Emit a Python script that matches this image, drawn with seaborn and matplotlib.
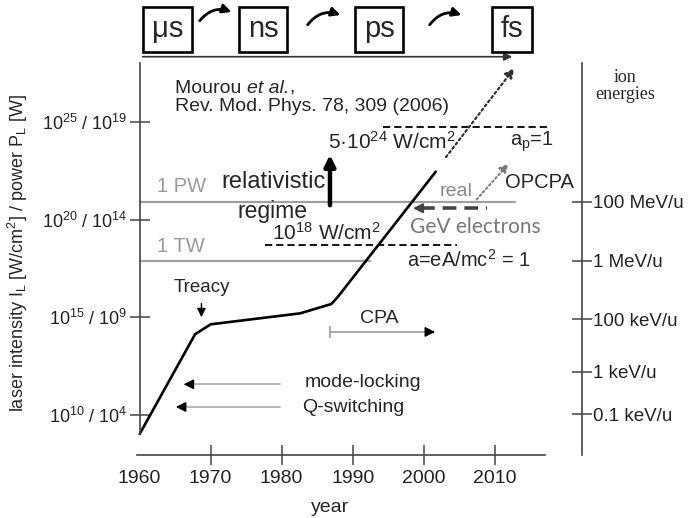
import matplotlib
matplotlib.use("Agg")
import matplotlib.pyplot as plt
from matplotlib.patches import FancyArrowPatch
import seaborn as sns
import pandas as pd

# ---------------- data ----------------
years = [1960, 1967.8, 1970.0, 1982.6, 1987.0, 1987.9, 2001.7]
log_intensity = [9.03, 14.13, 14.64, 15.20, 15.68, 16.04, 22.45]   # log10 I [W/cm^2]

projection_years = [2002.9, 2013.0]
projection_log = [23.08, 27.86]

x_ticks = [1960, 1970, 1980, 1990, 2000, 2010]
left_tick_exp = [10, 15, 20, 25]
left_tick_labels = ["$10^{10}$ / $10^{4}$", "$10^{15}$ / $10^{9}$",
                    "$10^{20}$ / $10^{14}$", "$10^{25}$ / $10^{19}$"]

ion_tick_exp = [20.92, 17.90, 14.90, 12.22, 10.05]
ion_tick_labels = ["100 MeV/u", "1 MeV/u", "100 keV/u", "1 keV/u", "0.1 keV/u"]

pulse_labels = ["\u03bcs", "ns", "ps", "fs"]

power_labels = ["1 PW", "1 TW"]
power_levels = [20.92, 17.88]
power_end_years = [2012.9, 1992.4]

rel_threshold = 18.70          # 10^18 W/cm^2 dashed line
rel_span = [1977.6, 2004.7]
ap_threshold = 24.75           # a_p = 1 dashed line
ap_span = [1994.3, 2017.5]
gev_level = 20.58              # GeV electrons (real)
gev_span = [1998.1, 2008.9]

# ---------------- style ----------------
sns.set_theme(style="ticks")
plt.rcParams["font.family"] = ["Liberation Sans", "DejaVu Sans"]
plt.rcParams["mathtext.fontset"] = "custom"
plt.rcParams["mathtext.rm"] = "Liberation Sans"
plt.rcParams["mathtext.it"] = "Liberation Sans:italic"
plt.rcParams["mathtext.bf"] = "Liberation Sans:bold"

W, H = 690, 518
fig = plt.figure(figsize=(6.9, 5.18), dpi=100)
ax = fig.add_axes([136.7 / W, (H - 455) / H, (545 - 136.7) / W, (455 - 63) / H])

df = pd.DataFrame({"year": years, "exp": log_intensity})
sns.lineplot(data=df, x="year", y="exp", ax=ax, color="black", lw=1.9,
             estimator=None, sort=False)

ax.set_xlim(1959.58, 2017.09)
ax.set_ylim(7.953, 28.01)
ax.set_xlabel("")
ax.set_ylabel("")

axis_col = "#444444"
for s in ["top", "right"]:
    ax.spines[s].set_visible(False)
ax.spines["left"].set_position(("data", 1960))
ax.spines["left"].set_bounds(log_intensity[0], 28.01)
for s in ["left", "bottom"]:
    ax.spines[s].set_color(axis_col)
    ax.spines[s].set_linewidth(1.2)

ax.set_xticks(x_ticks, [str(t) for t in x_ticks])
ax.tick_params(axis="x", direction="inout", length=15, width=1.1, color=axis_col,
               labelsize=14, pad=3, labelcolor="#222222")
ax.xaxis.get_major_ticks()[0].tick1line.set_visible(False)
ax.set_yticks(left_tick_exp, left_tick_labels)
ax.tick_params(axis="y", direction="inout", length=14, width=1.1, color=axis_col,
               labelsize=13, pad=2, labelcolor="#222222")

# right "ion energies" axis
ax2 = ax.twinx()
ax2.set_ylim(ax.get_ylim())
for s in ["top", "left", "bottom"]:
    ax2.spines[s].set_visible(False)
ax2.spines["right"].set_position(("axes", (582.3 - 136.7) / (545 - 136.7)))
ax2.spines["right"].set_color(axis_col)
ax2.spines["right"].set_linewidth(1.2)
ax2.set_yticks(ion_tick_exp, ion_tick_labels)
ax2.tick_params(axis="y", direction="inout", length=14, width=1.1, color=axis_col,
                labelsize=13.5, pad=1, labelcolor="#222222")
ax2.grid(False)

# ---------------- reference lines ----------------
for lab, lev, xe in zip(power_labels, power_levels, power_end_years):
    ax.plot([1960, xe], [lev, lev], color="#a0a0a0", lw=1.6, clip_on=False, zorder=1)
    ax.text(1962.4, lev + 0.75, lab, color="#9a9a9a", fontsize=14.5, va="center", ha="left")

ax.plot(rel_span, [rel_threshold] * 2, color="black", lw=1.3, dashes=(4, 2.2))
ax.plot(ap_span, [ap_threshold] * 2, color="black", lw=1.3, dashes=(4, 2.2), clip_on=False)
ax.plot([gev_span[0] + 1.5, gev_span[1]], [gev_level] * 2, color="#444444", lw=2.6,
        dashes=(3.8, 2.2))
ax.annotate("", xy=(gev_span[0], gev_level), xytext=(gev_span[0] + 2.0, gev_level),
            arrowprops=dict(arrowstyle="-|>", color="#444444", lw=1.5, mutation_scale=14))

# projection (dotted)
ax.annotate("", xy=(projection_years[1], projection_log[1]),
            xytext=(projection_years[0], projection_log[0]),
            arrowprops=dict(arrowstyle="-|>", color="#333333", lw=1.6,
                            linestyle=(0, (1, 1.4)), mutation_scale=14),
            annotation_clip=False)
# OPCPA dotted gray arrow
ax.annotate("", xy=(2012.2, 22.96), xytext=(2007.2, 20.92),
            arrowprops=dict(arrowstyle="-|>", color="#777777", lw=1.4,
                            linestyle=(0, (1, 1.4)), mutation_scale=13))

# thick relativistic arrow
ax.annotate("", xy=(1986.8, 23.45), xytext=(1986.8, 20.59),
            arrowprops=dict(arrowstyle="-|>", color="black", lw=3.2, mutation_scale=16))

# Treacy arrow
ax.annotate("", xy=(1968.7, 14.86), xytext=(1968.7, 15.85),
            arrowprops=dict(arrowstyle="-|>", color="black", lw=1.0, mutation_scale=13))

# CPA arrow
ax.plot([1986.8, 2000.6], [14.25, 14.25], color="#999999", lw=1.2)
ax.plot([1986.8], [14.25], marker="|", ms=9, mew=1.2, color="#999999")
ax.annotate("", xy=(2002.0, 14.25), xytext=(2000.4, 14.25),
            arrowprops=dict(arrowstyle="-|>", color="black", lw=1.0, mutation_scale=15))

# mode-locking / Q-switching arrows
for yv, xt in [(11.57, 1965.8), (10.41, 1964.7)]:
    ax.plot([1979.8, xt + 1.4], [yv, yv], color="#aaaaaa", lw=1.2)
    ax.annotate("", xy=(xt, yv), xytext=(xt + 1.6, yv),
                arrowprops=dict(arrowstyle="-|>", color="black", lw=1.0, mutation_scale=15))

# ---------------- texts ----------------
t1 = ax.text(1965.0, 26.73, "Mourou ", fontsize=14, va="center", ha="left")
t2 = ax.annotate("et al.", xy=(1, 0), xycoords=t1, fontsize=14, va="bottom", ha="left",
                 style="italic")
ax.annotate(",", xy=(1, 0), xycoords=t2, fontsize=14, va="bottom", ha="left")
ax.text(1965.0, 25.76, "Rev. Mod. Phys. 78, 309 (2006)", fontsize=14, va="center", ha="left")
ax.text(1986.5, 23.97, "5\u00b710$^{24}$ W/cm$^{2}$", fontsize=15, va="center", ha="left")
ax.text(2012.1, 23.97, r"a$_\mathrm{p}$=1", fontsize=14.5, va="center", ha="left",
        clip_on=False)
ax.text(1971.5, 21.92, "relativistic", fontsize=17, va="center", ha="left")
ax.text(1973.8, 20.39, "regime", fontsize=16.5, va="center", ha="left")
ax.text(1978.6, 19.31, "10$^{18}$ W/cm$^{2}$", fontsize=15, va="center", ha="left")
ax.text(2002.3, 21.45, "real", fontsize=14, color="#888888", va="center", ha="left")
ax.text(2011.5, 21.92, "OPCPA", fontsize=14.5, va="center", ha="left")
ax.text(1998.1, 19.62, "GeV electrons", fontsize=15, color="#777777", va="center",
        ha="left", family=["Lato", "DejaVu Sans"])
ax.text(1997.6, 17.93, "a=eA/mc$^{2}$ = 1", fontsize=14.5, va="center", ha="left")
ax.text(1968.7, 16.54, "Treacy", fontsize=13.5, va="center", ha="center")
ax.text(1993.8, 14.96, "CPA", fontsize=14, va="center", ha="center")
ax.text(1983.3, 11.64, "mode-locking", fontsize=14, va="center", ha="left")
ax.text(1982.9, 10.36, "Q-switching", fontsize=14, va="center", ha="left")

fig.text(330 / W, 1 - 507 / H, "year", fontsize=14, ha="center", va="center")
fig.text(18 / W, 1 - 253 / H,
         r"laser intensity I$_\mathrm{L}$ [W/cm$^{2}$] / power P$_\mathrm{L}$ [W]",
         fontsize=13, rotation=90, ha="center", va="center")
fig.text(625 / W, 1 - 86 / H, "ion\nenergies", fontsize=13, ha="center", va="center",
         family=["Liberation Serif", "DejaVu Serif"], linespacing=1.0)

# ---------------- pulse-duration boxes ----------------
box_centers = [167.5, 263.3, 379.0, 512.3]
for lab, cx in zip(pulse_labels, box_centers):
    fig.text(cx / W, 1 - 29.5 / H, lab, fontsize=21, ha="center", va="center",
             bbox=dict(boxstyle="square,pad=0.3", fc="white", ec="black", lw=1.9))

for (x0, y0), (x1, y1) in [((198, 23), (234, 13)), ((306, 27), (343, 16)),
                           ((428, 27), (464, 16))]:
    fig.add_artist(FancyArrowPatch((x0 / W, 1 - y0 / H), (x1 / W, 1 - y1 / H),
                                   transform=fig.transFigure,
                                   connectionstyle="arc3,rad=-0.4",
                                   arrowstyle="-|>", mutation_scale=13, lw=2.0,
                                   color="black"))

fig.add_artist(FancyArrowPatch((139.7 / W, 1 - 56.7 / H), (515 / W, 1 - 56.7 / H),
                               transform=fig.transFigure, arrowstyle="-|>",
                               mutation_scale=12, lw=1.2, color="#333333"))

fig.savefig("out.png", dpi=100)
